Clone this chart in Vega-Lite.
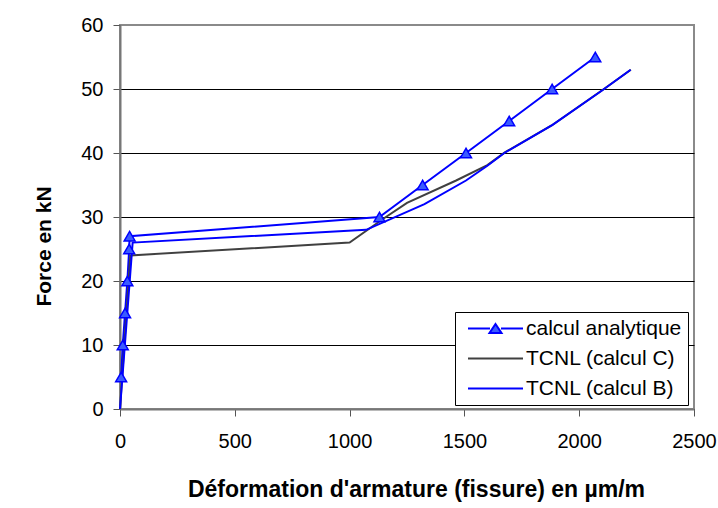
{
  "$schema": "https://vega.github.io/schema/vega-lite/v6.json",
  "autosize": {"type": "none"},
  "width": 574,
  "height": 384,
  "padding": {"left": 120, "top": 25, "right": 24, "bottom": 99},
  "background": "white",
  "config": {"font": "Liberation Sans", "view": {"stroke": "#8a8a8a", "strokeWidth": 2}},
  "data": {"values": [
    {"serie": "calcul analytique", "def": 5, "force": 5},
    {"serie": "calcul analytique", "def": 12, "force": 10},
    {"serie": "calcul analytique", "def": 22, "force": 15},
    {"serie": "calcul analytique", "def": 32, "force": 20},
    {"serie": "calcul analytique", "def": 40, "force": 25},
    {"serie": "calcul analytique", "def": 42, "force": 27},
    {"serie": "calcul analytique", "def": 1130, "force": 30},
    {"serie": "calcul analytique", "def": 1318, "force": 35},
    {"serie": "calcul analytique", "def": 1507, "force": 40},
    {"serie": "calcul analytique", "def": 1695, "force": 45},
    {"serie": "calcul analytique", "def": 1882, "force": 50},
    {"serie": "calcul analytique", "def": 2070, "force": 55},
    {"serie": "TCNL (calcul C)", "def": 0, "force": 0},
    {"serie": "TCNL (calcul C)", "def": 45, "force": 24},
    {"serie": "TCNL (calcul C)", "def": 1000, "force": 26},
    {"serie": "TCNL (calcul C)", "def": 1150, "force": 29.8},
    {"serie": "TCNL (calcul C)", "def": 1250, "force": 32.2},
    {"serie": "TCNL (calcul C)", "def": 1464, "force": 35.7},
    {"serie": "TCNL (calcul C)", "def": 1600, "force": 38.1},
    {"serie": "TCNL (calcul C)", "def": 1676, "force": 40.1},
    {"serie": "TCNL (calcul C)", "def": 1880, "force": 44.3},
    {"serie": "TCNL (calcul C)", "def": 2100, "force": 49.8},
    {"serie": "TCNL (calcul C)", "def": 2225, "force": 53},
    {"serie": "TCNL (calcul B)", "def": 0, "force": 0},
    {"serie": "TCNL (calcul B)", "def": 55, "force": 26},
    {"serie": "TCNL (calcul B)", "def": 1072, "force": 28},
    {"serie": "TCNL (calcul B)", "def": 1326, "force": 32},
    {"serie": "TCNL (calcul B)", "def": 1507, "force": 35.7},
    {"serie": "TCNL (calcul B)", "def": 1600, "force": 38},
    {"serie": "TCNL (calcul B)", "def": 1674, "force": 40},
    {"serie": "TCNL (calcul B)", "def": 1884, "force": 44.4},
    {"serie": "TCNL (calcul B)", "def": 2101, "force": 49.8},
    {"serie": "TCNL (calcul B)", "def": 2224, "force": 53}
  ]},
  "encoding": {
    "x": {
      "field": "def", "type": "quantitative",
      "scale": {"domain": [0, 2500], "nice": false},
      "axis": {
        "title": "Déformation d'armature (fissure) en µm/m",
        "values": [0, 500, 1000, 1500, 2000, 2500],
        "format": "d",
        "grid": false,
        "domainColor": "#777777", "domainWidth": 2,
        "tickColor": "#555555", "tickSize": 7, "tickWidth": 1,
        "labelFontSize": 20, "labelColor": "black", "labelPadding": 15,
        "labelFlush": false, "labelOverlap": false,
        "titleFontSize": 23, "titleFontWeight": "bold", "titleColor": "black",
        "titleBaseline": "alphabetic", "titleY": 87, "titleX": 296
      }
    },
    "y": {
      "field": "force", "type": "quantitative",
      "scale": {"domain": [0, 60], "nice": false},
      "axis": {
        "title": "Force en kN",
        "values": [0, 10, 20, 30, 40, 50, 60],
        "format": "d",
        "grid": true,
        "gridColor": {"condition": {"test": "datum.value >= 60", "value": "#8a8a8a"}, "value": "black"},
        "gridWidth": 1,
        "domainColor": "#777777", "domainWidth": 2,
        "tickColor": "#555555", "tickSize": 7, "tickWidth": 1,
        "labelFontSize": 20, "labelColor": "black", "labelPadding": 10,
        "titleFontSize": 21, "titleFontWeight": "bold", "titleColor": "black",
        "titleAngle": -90, "titleBaseline": "alphabetic", "titleX": -70, "titleY": 221
      }
    }
  },
  "layer": [
    {
      "mark": {"type": "line", "strokeWidth": 2},
      "encoding": {
        "color": {
          "field": "serie", "type": "nominal",
          "scale": {"domain": ["TCNL (calcul C)", "TCNL (calcul B)", "calcul analytique"], "range": ["#404040", "#0000ff", "#0000ff"]},
          "legend": null
        }
      }
    },
    {
      "transform": [{"filter": "datum.serie === 'calcul analytique'"}],
      "mark": {"type": "point", "shape": "triangle-up", "filled": true, "fill": "#3a5bff", "stroke": "#0000ff", "strokeWidth": 1.5, "size": 120, "opacity": 1}
    },
    {
      "transform": [{"filter": "datum.serie === 'aucune'"}],
      "mark": {"type": "point", "strokeWidth": 2},
      "encoding": {
        "fill": {
          "field": "serie", "type": "nominal",
          "scale": {"domain": ["calcul analytique", "TCNL (calcul C)", "TCNL (calcul B)"], "range": ["#3a5bff", "transparent", "transparent"]},
          "legend": {
            "orient": "none", "legendX": 335, "legendY": 287,
            "title": null, "direction": "vertical",
            "fillColor": "white", "strokeColor": "black",
            "padding": 6, "rowPadding": 8,
            "labelFontSize": 21, "labelColor": "black", "labelLimit": 300,
            "symbolSize": 100, "symbolStrokeWidth": 2, "symbolOpacity": 1,
            "symbolOffset": 24, "labelOffset": 20
          }
        },
        "stroke": {
          "field": "serie", "type": "nominal",
          "scale": {"domain": ["calcul analytique", "TCNL (calcul C)", "TCNL (calcul B)"], "range": ["#0000ff", "#404040", "#0000ff"]},
          "legend": {
            "orient": "none", "legendX": 335, "legendY": 287,
            "title": null, "direction": "vertical",
            "fillColor": "white", "strokeColor": "black",
            "padding": 6, "rowPadding": 8,
            "labelFontSize": 21, "labelColor": "black", "labelLimit": 300,
            "symbolSize": 100, "symbolStrokeWidth": 2, "symbolOpacity": 1,
            "symbolOffset": 24, "labelOffset": 20
          }
        },
        "shape": {
          "field": "serie", "type": "nominal",
          "scale": {"domain": ["calcul analytique", "TCNL (calcul C)", "TCNL (calcul B)"], "range": ["M-5.5,0H-1.1M1.1,0H5.5M0,-0.9L1.2,0.9H-1.2Z", "M-5.5,0H5.5", "M-5.5,0H5.5"]},
          "legend": {
            "orient": "none", "legendX": 335, "legendY": 287,
            "title": null, "direction": "vertical",
            "fillColor": "white", "strokeColor": "black",
            "padding": 6, "rowPadding": 8,
            "labelFontSize": 21, "labelColor": "black", "labelLimit": 300,
            "symbolSize": 100, "symbolStrokeWidth": 2, "symbolOpacity": 1,
            "symbolOffset": 24, "labelOffset": 20
          }
        }
      }
    }
  ]
}
